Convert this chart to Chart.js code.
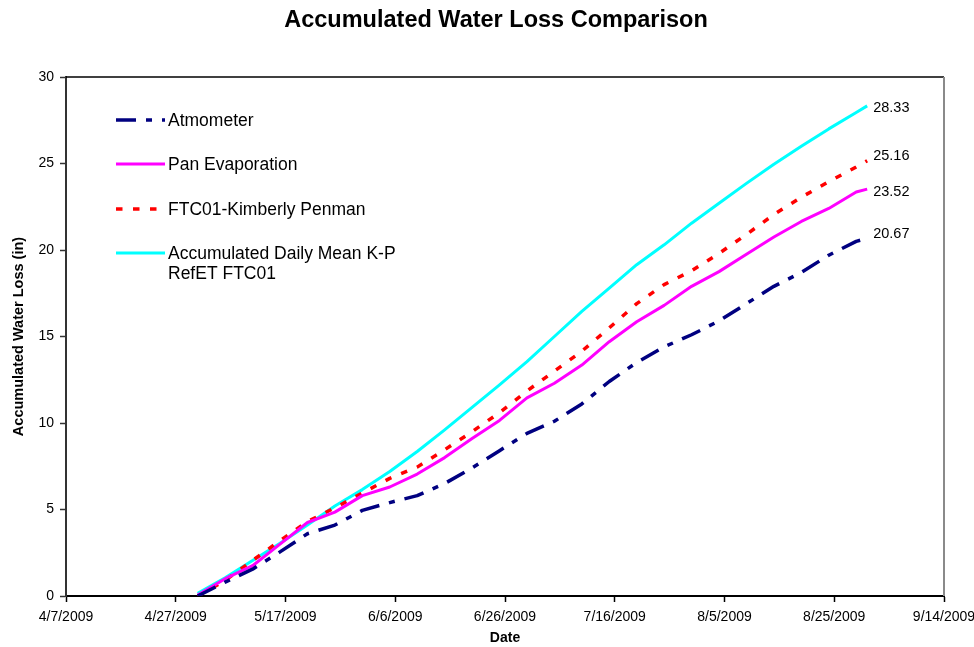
<!DOCTYPE html>
<html>
<head>
<meta charset="utf-8">
<title>Accumulated Water Loss Comparison</title>
<script src="https://cdn.jsdelivr.net/npm/chart.js@4.4.1/dist/chart.umd.min.js"></script>
<style>
  html, body { margin: 0; padding: 0; background: #fff; }
  #wrap { width: 974px; height: 647px; position: relative; }
</style>
</head>
<body>
<div id="wrap"><canvas id="lossChart" width="974" height="647"></canvas></div>
<script>
// dates (every 5 days, plus the last day of record)
const dates = ['5/1/2009', '5/6/2009', '5/11/2009', '5/16/2009', '5/21/2009', '5/26/2009', '5/31/2009',
    '6/5/2009', '6/10/2009', '6/15/2009', '6/20/2009', '6/25/2009', '6/30/2009',
    '7/5/2009', '7/10/2009', '7/15/2009', '7/20/2009', '7/25/2009', '7/30/2009',
    '8/4/2009', '8/9/2009', '8/14/2009', '8/19/2009', '8/24/2009', '8/29/2009', '8/31/2009'];

// accumulated water loss (in)
const atmometer = [0.0, 0.8, 1.55, 2.55, 3.6, 4.1, 4.95, 5.4, 5.8, 6.5, 7.4, 8.4, 9.4,
    10.1, 11.1, 12.4, 13.5, 14.4, 15.1, 15.9, 16.9, 17.9, 18.7, 19.7, 20.5, 20.67];
const panEvaporation = [0.05, 1.0, 1.75, 3.0, 4.25, 4.85, 5.8, 6.3, 7.05, 8.0, 9.1, 10.15, 11.45,
    12.3, 13.35, 14.7, 15.85, 16.8, 17.9, 18.75, 19.75, 20.75, 21.65, 22.4, 23.35, 23.52];
const kimberlyPenman = [0.0, 0.9, 2.05, 3.2, 4.3, 5.1, 5.95, 6.8, 7.45, 8.45, 9.5, 10.6, 11.85,
    13.0, 14.15, 15.5, 16.9, 18.0, 18.8, 19.8, 20.9, 22.05, 23.05, 23.95, 24.8, 25.16];
const dailyMeanKP = [0.15, 1.05, 2.05, 3.05, 4.1, 5.2, 6.15, 7.2, 8.35, 9.6, 10.9, 12.2, 13.55,
    15.0, 16.45, 17.8, 19.15, 20.3, 21.55, 22.7, 23.85, 24.96, 26.0, 27.0, 27.95, 28.33];

// x axis runs 4/7/2009 .. 9/14/2009 in days
const startDate = '4/7/2009';
const endDate = '9/14/2009';

const DAY = 86400000;
function toUTC(s) {
    const [m, d, y] = s.split('/').map(Number);
    return Date.UTC(y, m - 1, d);
}
function dayNum(s) {
    return (toUTC(s) - toUTC(startDate)) / DAY;
}
function dayLabel(v) {
    const dt = new Date(toUTC(startDate) + v * DAY);
    return `${dt.getUTCMonth() + 1}/${dt.getUTCDate()}/${dt.getUTCFullYear()}`;
}
function points(values) {
    return dates.map((d, i) => ({ x: dayNum(d), y: values[i] }));
}

const FONT = "'Liberation Sans', Arial, sans-serif";
Chart.defaults.font.family = FONT;
Chart.defaults.color = '#000';

// legend inside plot area, title, frame and end-of-line values
const decorations = {
    id: 'decorations',
    afterDatasetsDraw(chart) {
        const ctx = chart.ctx;
        const area = chart.chartArea;
        ctx.save();

        // frame: top and right
        ctx.setLineDash([]);
        ctx.strokeStyle = '#000';
        ctx.lineWidth = 1.5;
        ctx.beginPath();
        ctx.moveTo(area.left, area.top);
        ctx.lineTo(area.right, area.top);
        ctx.stroke();
        ctx.strokeStyle = '#8a8a8a';
        ctx.lineWidth = 2;
        ctx.beginPath();
        ctx.moveTo(area.right, area.top);
        ctx.lineTo(area.right, area.bottom);
        ctx.stroke();

        // title
        ctx.fillStyle = '#000';
        ctx.font = `bold 23.5px ${FONT}`;
        ctx.textAlign = 'center';
        ctx.textBaseline = 'middle';
        ctx.fillText('Accumulated Water Loss Comparison', 496, 21);

        // end values
        ctx.font = `14.5px ${FONT}`;
        ctx.textAlign = 'left';
        chart.data.datasets.forEach((ds, i) => {
            const meta = chart.getDatasetMeta(i);
            const last = meta.data[meta.data.length - 1];
            const v = ds.data[ds.data.length - 1].y;
            ctx.fillText(v.toFixed(2), last.x + 6, last.y + ds.endOffset);
        });

        // legend
        ctx.font = `17.5px ${FONT}`;
        const rows = [120, 164, 209, 253];
        chart.data.datasets.forEach((ds, i) => {
            const y = rows[i];
            ctx.strokeStyle = ds.borderColor;
            ctx.lineWidth = ds.borderWidth;
            ctx.setLineDash(ds.borderDash || []);
            ctx.beginPath();
            ctx.moveTo(116, y);
            ctx.lineTo(165, y);
            ctx.stroke();
            const lines = Array.isArray(ds.label) ? ds.label : [ds.label];
            lines.forEach((t, j) => ctx.fillText(t, 168, y + 1 + j * 20));
        });
        ctx.restore();
    }
};

new Chart(document.getElementById('lossChart'), {
    type: 'line',
    data: {
        datasets: [{
            label: 'Atmometer',
            data: points(atmometer),
            borderColor: '#000080',
            borderWidth: 3.5,
            borderDash: [20, 10, 6, 10],
            endOffset: -4
        }, {
            label: 'Pan Evaporation',
            data: points(panEvaporation),
            borderColor: '#ff00ff',
            borderWidth: 3,
            endOffset: 3
        }, {
            label: 'FTC01-Kimberly Penman',
            data: points(kimberlyPenman),
            borderColor: '#ff0000',
            borderWidth: 3.5,
            borderDash: [6.5, 10.5],
            endOffset: -5
        }, {
            label: ['Accumulated Daily Mean K-P', 'RefET FTC01'],
            data: points(dailyMeanKP),
            borderColor: '#00ffff',
            borderWidth: 3,
            endOffset: 2
        }]
    },
    options: {
        responsive: false,
        animation: false,
        devicePixelRatio: 1,
        layout: { padding: { top: 77, right: 30, bottom: 0, left: 0 } },
        elements: {
            point: { radius: 0 },
            line: { tension: 0, borderCapStyle: 'butt', borderJoinStyle: 'round' }
        },
        plugins: {
            legend: { display: false },
            tooltip: { enabled: false },
            title: { display: false }
        },
        scales: {
            x: {
                type: 'linear',
                min: dayNum(startDate),
                max: dayNum(endDate),
                afterFit: s => { s.height = 51; s.paddingLeft = 0; s.paddingRight = 0; },
                ticks: {
                    stepSize: 20,
                    padding: 7,
                    maxRotation: 0,
                    font: { size: 14 },
                    callback: v => dayLabel(v)
                },
                grid: { drawOnChartArea: false, tickLength: 6, tickColor: '#000', tickWidth: 1.5 },
                border: { color: '#000', width: 2 },
                title: { display: true, text: 'Date', font: { size: 14, weight: 'bold' }, padding: { top: 0, bottom: 0 } }
            },
            y: {
                min: 0,
                max: 30,
                afterFit: s => { s.width = 66; },
                ticks: { stepSize: 5, padding: 6, font: { size: 14 } },
                grid: { drawOnChartArea: false, tickLength: 6, tickColor: '#333', tickWidth: 1.5 },
                border: { color: '#333', width: 2 },
                title: { display: true, text: 'Accumulated Water Loss (in)', font: { size: 14.5, weight: 'bold' }, padding: { top: 10, bottom: 0 } }
            }
        }
    },
    plugins: [decorations]
});
</script>
</body>
</html>
